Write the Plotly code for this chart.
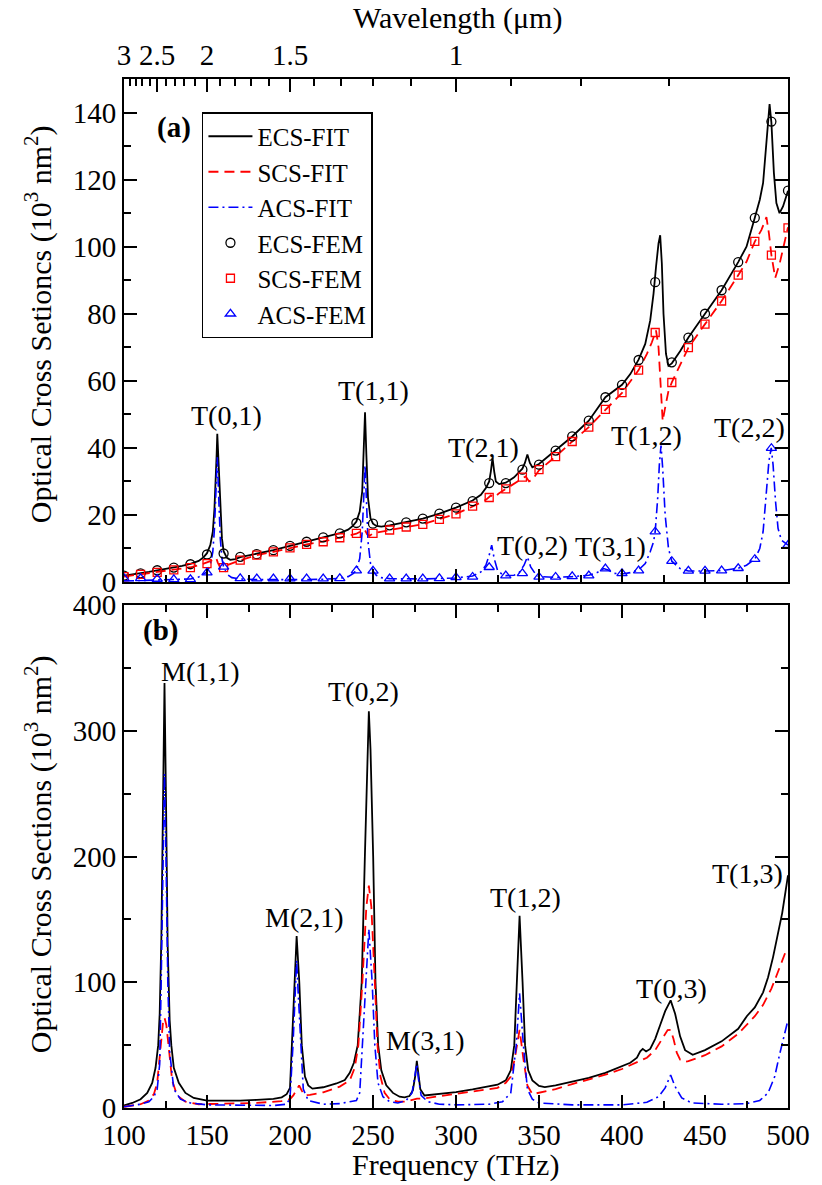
import plotly.graph_objects as go

# ---------------- Panel (a): fitted curves (frequency THz, value 10^3 nm^2)
A_ECS_FIT = [(100,1.9),(105,2.2),(110,2.6),(115,3.0),(120,3.5),(125,3.9),(130,4.3),(135,4.8),(140,5.4),
             (145,6.3),(148,7.4),(150,8.6),(152,11),(153.5,15),(154.5,22),(155.3,30),(155.8,38),(156.2,44.2),
             (156.7,38),(157.2,30),(158,20),(159,13),(160,9.2),(162,7.2),(164,6.6),(167,6.8),(170,7.4),
             (175,7.9),(180,8.4),(190,9.5),(200,10.8),(210,12.0),(220,13.3),(230,14.6),(235,15.6),(238,16.8),
             (240,18.0),(242,21),(243.5,27),(244.5,38),(245.2,50.6),(246,38),(247,25),(248.5,19),(250,17.4),
             (252,16.7),(255,16.5),(260,16.9),(270,17.8),(280,18.9),(290,20.4),(300,22.2),(310,24.3),
             (315,26),(318,28),(320,30),(321,33),(322,37),(323,33),(324,30),(326,29.2),(330,29.6),
             (335,31.2),(338,32.6),(340,33.8),(341.5,35.5),(343,38),(344.5,35.5),(346,34.2),(350,35.2),
             (360,39.2),(370,43.4),(380,48.1),(390,55.1),(400,58.8),(405,62),(410,66.3),(414,71),
             (417,78),(419,86),(420.5,94),(422,101),(423,103.4),(424,95),(425,80),(426.5,68),(428,64.5),
             (430,65.2),(435,68.8),(440,72.9),(450,80),(460,87),(470,95.4),(475,100),(480,108.6),
             (483,114),(485,119),(487,131),(488.9,142.5),(490,137),(491.5,122),(493,113),(494.9,110),
             (497,112),(500,116.7)]
A_SCS_FIT = [(100,1.6),(110,2.3),(120,2.9),(130,3.6),(140,4.4),(145,5.0),(150,5.7),(152,6.2),(154,6.8),
             (155.5,7.2),(156.5,5.8),(158,4.3),(160,4.4),(163,5.2),(170,6.5),(180,8.0),(190,9.0),
             (200,10.2),(210,11.2),(220,12.1),(230,13.2),(240,14.4),(243,15.2),(245,15.6),(246.5,14.2),
             (248,13.8),(250,14.5),(260,15.5),(270,16.4),(280,17.2),(290,18.7),(300,20.3),(310,22.5),
             (318,24.5),(321,25.8),(323,25.2),(326,26.5),(330,27.8),(340,31),(342,31.5),(344,30),
             (346,30.5),(350,33.3),(360,37.4),(370,41.9),(380,46.2),(390,51.3),(400,56.4),(410,63.2),
             (415,68),(418,71.5),(420.5,75),(422,70),(423.5,56),(424.5,48),(426,52),(428,57),(430,59.5),
             (435,64.5),(440,69.9),(450,76.9),(460,83.8),(470,91.5),(475,95.5),(480,101.5),(484,105),
             (487,108.8),(488.5,104),(490,97.5),(492.3,90.7),(495,95),(500,105.8)]
A_ACS_FIT = [(100,0.3),(110,0.4),(120,0.5),(130,0.6),(140,0.9),(145,1.5),(150,3.0),(152,5),(153.5,9),
             (154.5,16),(155.5,28),(156.2,37.2),(157,26),(158,13),(159,7),(160,4.5),(162,2.3),(165,1.3),
             (170,0.9),(180,0.7),(200,0.7),(220,0.8),(230,1.1),(235,1.6),(238,2.5),(240,3.5),(242,7),
             (243.5,15),(244.5,26),(245.2,34.8),(246,25),(247,12),(248.5,5.5),(250,3.3),(252,2),
             (255,1.3),(260,1.0),(280,0.9),(300,1.2),(310,1.8),(315,3),(318,5),(320,8),(321.5,11),
             (323,7),(325,3.5),(328,2.2),(330,1.9),(335,2),(338,2.8),(341,5),(343,7.5),(345,4.5),
             (348,2.3),(350,1.6),(360,1.4),(370,1.6),(380,2.0),(385,2.8),(389,4.0),(392,3.5),(395,2.6),
             (400,2.4),(405,2.8),(410,3.6),(414,5.5),(417,9),(419,12),(420,15),(421.5,25),(422.5,35),
             (423.5,40.7),(424.5,34),(426,20),(428,10),(430,6.2),(435,4),(440,3.3),(450,3.3),(460,3.4),
             (470,4.1),(475,5),(480,6.8),(483,10),(485,15),(487,26),(488.5,36),(489.9,40),(491,35),
             (492.5,24),(494,16),(496,12.5),(500,11)]

# ---------------- Panel (a): FEM points (every 10 THz)
FEM_FREQ = [100,110,120,130,140,150,160,170,180,190,200,210,220,230,240,250,260,270,280,290,300,
            310,320,330,340,350,360,370,380,390,400,410,420,430,440,450,460,470,480,490,500]
ECS_FEM = [1.9,2.6,3.5,4.3,5.3,8.2,8.5,7.5,8.3,9.5,10.8,12.0,13.3,14.5,17.6,17.4,16.9,17.8,18.9,20.4,22.2,
           24.1,29.5,29.5,33.5,35.0,39.2,43.4,48.1,55.1,58.8,66.2,89.4,65.5,72.9,80.0,87.0,95.4,108.6,137.3,116.7]
SCS_FEM = [1.6,2.3,2.9,3.6,4.3,5.5,4.3,6.5,8.0,9.0,10.2,11.2,12.0,13.2,14.5,14.5,15.5,16.4,17.2,18.7,20.3,
           22.6,25.2,27.8,31.3,33.5,37.4,41.9,46.2,51.5,56.5,63.2,74.4,59.5,69.9,76.9,83.8,91.5,101.6,97.5,105.6]
ACS_FEM = [1.1,1.1,0.9,0.8,0.8,2.8,4.5,1.1,1.0,1.0,1.0,1.0,1.0,1.1,3.4,3.3,1.0,1.0,1.0,1.1,1.4,
           1.5,4.4,1.9,2.6,1.5,1.5,1.7,1.9,4.0,2.6,3.4,15.0,6.2,3.3,3.3,3.4,4.1,6.8,39.9,11.0]

# ---------------- Panel (b): fitted curves
B_ECS_FIT = [(100,2),(105,4),(110,7),(114,12),(117,20),(119,32),(120.6,50),(121.5,75),(122.5,135),(123.5,245),
             (124.4,338),(125.3,245),(126.3,130),(127.5,70),(128.5,50),(130,32),(133,20),(137,12),(142,8),
             (150,5.8),(160,5.5),(170,5.8),(180,6.5),(190,7.3),(195,8.5),(198,11),(200,16),(201.2,50),
             (202.6,100),(204,136.8),(205.6,100),(207.1,50),(209,25),(211,18),(213.5,15.4),(220,16.5),
             (228,19.5),(233,22.3),(236,28),(238.5,36),(240.8,50),(243.2,100),(245.1,200),(246.5,280),
             (247.5,315.5),(248.5,285),(250.1,200),(251.5,100),(253.1,50),(255,30),(258,18),(262,12),
             (266,9),(269,8.5),(272,9.5),(274,14),(275.5,26),(276.4,37.5),(277.3,27),(278.5,15),(281,10),
             (290,11),(300,12.7),(310,14.8),(320,17),(325,18.5),(330,22),(333,30),(335.1,50),(336.7,100),
             (338.3,152.8),(340.1,100),(341.6,50),(343.5,30),(346,22),(350,17.5),(353.5,16.6),(360,18),
             (370,21),(380,24),(390,28),(400,33),(405,36),(409,40),(411,45),(412.5,47),(414.5,45),(417,47),
             (420,55),(423,66),(426,77),(429.3,85.6),(432,75),(435,57),(438,46),(442.6,42.3),(450,46),
             (460,53),(470,63),(475.3,73.2),(480,80),(485,92),(488,104),(491,120),(494,138),(496.5,155),
             (498.5,172),(500,185)]
B_SCS_FIT = [(100,1),(110,3),(115,6),(118,11),(120,20),(122,50),(123.5,68),(124.4,71.8),(125.5,66),
             (126.8,50),(129,22),(132,10),(137,5),(145,3),(160,3.2),(180,4),(195,5.5),(200,7),(202,10),
             (204,15),(205.5,18),(207,14),(209,10),(212,10.5),(220,12.5),(230,17),(236,22),(239,32),
             (241.2,50),(243.6,100),(246,160),(247.5,176.8),(249,160),(251.1,100),(252.7,50),(254.5,25),
             (257,12),(260,7),(265,5),(270,5),(275,6.5),(276.5,7.5),(280,7.5),(290,9.5),(300,11.5),
             (310,13.5),(320,15),(325,16),(330,20),(333,25),(335.5,40),(338.3,62.2),(340.5,40),(343,18),
             (346,11),(350,12),(360,15),(370,19),(380,22.5),(390,26.5),(400,31),(410,37),(415,40),(420,46),
             (424,54),(427.5,62),(429.3,62.2),(431,55),(433,44),(435,38.5),(437.6,36.7),(440,37.2),(450,42),
             (460,49),(470,59),(475,66),(480,73),(485,82),(490,95),(493,105),(496,116),(498.5,124),(500,125)]
B_ACS_FIT = [(100,1),(110,3),(115,5),(118,9),(120,15),(121.5,35),(122.4,100),(123.5,200),(124.4,266),
             (125.3,200),(126.4,100),(127.5,45),(130,15),(134,7),(140,4),(150,2.5),(170,2),(190,2),(198,3),
             (200,8),(201.8,50),(203,90),(204,117.5),(205,90),(206.5,50),(208,15),(211,6),(220,3),(230,3.5),
             (236,5),(240,6),(242,12),(243.6,50),(245.5,100),(247.5,142.3),(249.5,100),(251.1,50),(253,20),
             (256,9),(260,5),(265,4),(270,6),(273.5,12),(275.5,28),(276.4,35),(277.3,24),(279,10),(283,5),
             (290,3),(300,2.5),(320,3),(328,5),(333,12),(336.3,50),(338.3,91.2),(340.6,50),(343,15),(346,7),
             (350,4),(370,2.5),(400,2.5),(415,4.5),(422,9),(426,16),(429.3,26.2),(432,17),(436,8),(442,4),
             (460,3),(475,3.5),(483,6),(488,12),(492,25),(495,43),(498,60),(500,70)]

# ---------------- Mode labels
A_LABELS = [("T(0,1)",161.8,49.6),("T(1,1)",250.2,57.1),("T(2,1)",316.5,40.2),("T(0,2)",345.8,11.0),
            ("T(3,1)",393.3,10.5),("T(1,2)",415.0,43.7),("T(2,2)",476.8,46.2)]
B_LABELS = [("M(1,1)",146.0,347.0),("T(0,2)",244.2,331.0),("M(2,1)",208.8,151.4),("M(3,1)",281.5,53.5),
            ("T(1,2)",341.6,167.0),("T(0,3)",429.7,95.3),("T(1,3)",475.3,186.5)]

# ---------------- Wavelength (top) axis ticks, micrometres
WL_MAJOR = [3, 2.5, 2, 1.5, 1]
WL_MINOR = [2.9, 2.8, 2.7, 2.6, 2.4, 2.3, 2.2, 2.1, 1.9, 1.8, 1.7, 1.6, 1.4, 1.3, 1.2, 1.1, 0.9, 0.8, 0.7]

FONT = "Liberation Serif, Times New Roman, serif"
BLACK, RED, BLUE = "black", "#ff0000", "#0000ff"


def xs(p):
    return [a for a, b in p]


def ys(p):
    return [b for a, b in p]


fig = go.Figure()

# Panel (a) lines
fig.add_trace(go.Scatter(x=xs(A_ECS_FIT), y=ys(A_ECS_FIT), mode="lines", name="ECS-FIT",
                         line=dict(color=BLACK, width=1.8), xaxis="x", yaxis="y"))
fig.add_trace(go.Scatter(x=xs(A_SCS_FIT), y=ys(A_SCS_FIT), mode="lines", name="SCS-FIT",
                         line=dict(color=RED, width=1.8, dash="10px,6px"), xaxis="x", yaxis="y"))
fig.add_trace(go.Scatter(x=xs(A_ACS_FIT), y=ys(A_ACS_FIT), mode="lines", name="ACS-FIT",
                         line=dict(color=BLUE, width=1.6, dash="10px,4px,2px,4px"), xaxis="x", yaxis="y"))
# Panel (a) FEM markers
fig.add_trace(go.Scatter(x=FEM_FREQ, y=ECS_FEM, mode="markers", name="ECS-FEM",
                         marker=dict(symbol="circle-open", size=9, color=BLACK, line=dict(width=1.3)),
                         xaxis="x", yaxis="y"))
fig.add_trace(go.Scatter(x=FEM_FREQ, y=SCS_FEM, mode="markers", name="SCS-FEM",
                         marker=dict(symbol="square-open", size=8, color=RED, line=dict(width=1.3)),
                         xaxis="x", yaxis="y"))
fig.add_trace(go.Scatter(x=FEM_FREQ, y=ACS_FEM, mode="markers", name="ACS-FEM",
                         marker=dict(symbol="triangle-up-open", size=9, color=BLUE, line=dict(width=1.3)),
                         xaxis="x", yaxis="y"))

# Panel (b) lines
fig.add_trace(go.Scatter(x=xs(B_ECS_FIT), y=ys(B_ECS_FIT), mode="lines", showlegend=False,
                         line=dict(color=BLACK, width=1.8), xaxis="x2", yaxis="y2"))
fig.add_trace(go.Scatter(x=xs(B_SCS_FIT), y=ys(B_SCS_FIT), mode="lines", showlegend=False,
                         line=dict(color=RED, width=1.8, dash="10px,6px"), xaxis="x2", yaxis="y2"))
fig.add_trace(go.Scatter(x=xs(B_ACS_FIT), y=ys(B_ACS_FIT), mode="lines", showlegend=False,
                         line=dict(color=BLUE, width=1.6, dash="10px,4px,2px,4px"), xaxis="x2", yaxis="y2"))

# empty trace so the wavelength axis is drawn
wl_major_f = [300.0 / w for w in WL_MAJOR]
wl_minor_f = [300.0 / w for w in WL_MINOR]
fig.add_trace(go.Scatter(x=wl_major_f, y=[None] * len(wl_major_f), mode="lines", showlegend=False,
                         hoverinfo="skip", xaxis="x3", yaxis="y"))

tickfont = dict(family=FONT, size=29, color="black")
common = dict(showline=True, linecolor="black", linewidth=2, ticks="inside", ticklen=13, tickwidth=1.6,
              tickcolor="black", showgrid=False, zeroline=False, tickfont=tickfont)
minor_common = dict(ticklen=7, tickwidth=1.6, ticks="inside", tickcolor="black", showgrid=False)

top_dom = [1 - 503 / 1029, 1]
bot_dom = [0, 503 / 1029]

fig.update_layout(
    width=822, height=1185,
    margin=dict(l=124, r=25, t=79, b=77),
    paper_bgcolor="white", plot_bgcolor="white",
    font=dict(family=FONT, color="black"),
    xaxis=dict(domain=[0, 1], anchor="y", range=[100, 500], tick0=100, dtick=50, showticklabels=False,
               minor=dict(dtick=25, **minor_common), **common),
    xaxis2=dict(domain=[0, 1], anchor="y2", range=[100, 500], tick0=100, dtick=50, mirror="ticks",
                minor=dict(dtick=25, **minor_common), **common),
    xaxis3=dict(overlaying="x", side="top", anchor="y", range=[100, 500], tickmode="array",
                tickvals=wl_major_f, ticktext=[("%g" % w) for w in WL_MAJOR],
                minor=dict(tickmode="array", tickvals=wl_minor_f, **minor_common), **common),
    yaxis=dict(domain=top_dom, anchor="x", range=[0, 150], tick0=0, dtick=20, mirror="ticks",
               minor=dict(dtick=10, **minor_common), **common),
    yaxis2=dict(domain=bot_dom, anchor="x2", range=[0, 400], tick0=0, dtick=100, mirror="ticks",
                minor=dict(dtick=50, **minor_common), **common),
    legend=dict(x=(203 - 124) / 673, y=1 - (112 - 79) / 1029, xanchor="left", yanchor="top",
                bgcolor="white", bordercolor="black", borderwidth=1.5,
                font=dict(family=FONT, size=25, color="black"), tracegroupgap=0, itemwidth=44),
    showlegend=True,
)


def pann(text, px, py, size=30, angle=0):
    """annotation placed by its centre, given in figure pixels"""
    return dict(text=text, x=(px - 124) / 673, y=1 - (py - 79) / 1029, xref="paper", yref="paper",
                xanchor="center", yanchor="middle", textangle=angle, showarrow=False,
                font=dict(family=FONT, size=size, color="black"))


ann = []
for t, fx, fy in A_LABELS:
    ann.append(dict(text=t, x=fx, y=fy, xref="x", yref="y", showarrow=False, xanchor="center",
                    yanchor="middle", font=dict(family=FONT, size=28, color="black")))
for t, fx, fy in B_LABELS:
    ann.append(dict(text=t, x=fx, y=fy, xref="x2", yref="y2", showarrow=False, xanchor="center",
                    yanchor="middle", font=dict(family=FONT, size=28, color="black")))
ann += [
    pann("<b>(a)</b>", 175, 127, 29),
    pann("<b>(b)</b>", 161, 630, 29),
    pann("Wavelength (μm)", 462, 18, 30),
    pann("Frequency (THz)", 460, 1165, 30),
    pann("Optical Cross Setioncs (10<sup>3</sup> nm<sup>2</sup>)", 37, 324, 30, -90),
    pann("Optical Cross Sections (10<sup>3</sup> nm<sup>2</sup>)", 37, 854, 30, -90),
]
fig.update_layout(annotations=ann)

fig.write_html("out.html")
